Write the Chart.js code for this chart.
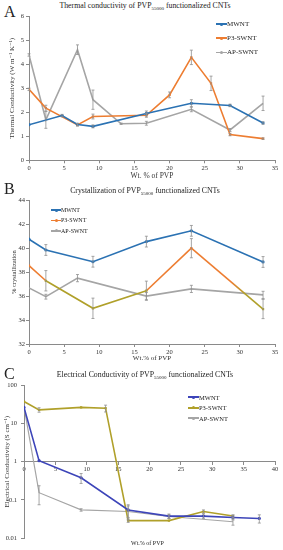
<!DOCTYPE html>
<html>
<head>
<meta charset="utf-8">
<script src="https://cdn.jsdelivr.net/npm/chart.js@4.4.1/dist/chart.umd.min.js"></script>
<style>
  body { margin: 0; background: #fff; width: 283px; height: 550px; position: relative; overflow: hidden;
         font-family: "Liberation Serif", "DejaVu Serif", serif; color: #222; }
  canvas { position: absolute; left: 0; }
  .letter { position: absolute; left: 4px; font-size: 16px; line-height: 16px; }
  .title { position: absolute; left: 0; width: 290px; text-align: center; font-size: 7.8px; line-height: 10px; white-space: nowrap; }
  .title span { font-size: 5px; position: relative; top: 1.5px; }
  .legend { position: absolute; }
  .legend .row { display: flex; align-items: center; white-space: nowrap; }
  .legend .sw { display: inline-block; position: relative; height: 6px; }
  .legend .sw b { position: absolute; left: 0; right: 0; top: 2.2px; height: 1.6px; }
  .legend .sw i { position: absolute; left: 50%; top: 1.5px; width: 3px; height: 3px; margin-left: -1.5px; border-radius: 50%; }
  .xtitle { position: absolute; font-size: 6px; line-height: 8px; white-space: nowrap; }
</style>
</head>
<body>
<div class="letter" style="top:4px">A</div>
<div class="title" style="top:1px">Thermal conductivity of PVP<span>55000</span> functionalized CNTs</div>
<canvas id="chartA" width="283" height="181" style="top:0"></canvas>
<div class="legend" id="legA" style="left:216px; top:17px; font-size:7px"></div>

<div class="letter" style="top:181px">B</div>
<div class="title" style="top:186px">Crystallization of PVP<span>55000</span> functionalized CNTs</div>
<canvas id="chartB" width="283" height="184" style="top:181px"></canvas>
<div class="legend" id="legB" style="left:51px; top:205px; font-size:6px"></div>

<div class="letter" style="top:366px">C</div>
<div class="title" style="top:370px">Electrical Conductivity of PVP<span>55000</span> functionalized CNTs</div>
<canvas id="chartC" width="283" height="188" style="top:362px"></canvas>
<div class="legend" id="legC" style="left:188px; top:392px; font-size:6.5px"></div>
<div class="xtitle" style="left:131px; top:539px">Wt.% of PVP</div>

<script>
// ---- data ----
const seriesNames = ['MWNT', 'P3-SWNT', 'AP-SWNT'];

// A: thermal conductivity (W m-1 K-1)
const tcMwntX = [0, 4.7, 6.9, 9.1, 16.7, 23.1, 28.6, 33.3];
const tcMwntY = [1.48, 1.86, 1.49, 1.41, 1.95, 2.37, 2.28, 1.55];
const tcMwntErr = [0, 0.05, 0.05, 0.06, 0.1, 0.15, 0.05, 0.05];
const tcP3X = [0, 2.4, 6.9, 9.1, 16.7, 20.0, 23.1, 25.9, 28.6, 33.3];
const tcP3Y = [2.95, 2.17, 1.47, 1.82, 1.87, 2.72, 4.28, 3.2, 1.07, 0.9];
const tcP3Err = [0.05, 0.12, 0.05, 0.1, 0.08, 0.12, 0.3, 0.3, 0.05, 0.03];
const tcApX = [0, 2.4, 6.9, 9.1, 13.1, 16.7, 23.1, 28.6, 33.3];
const tcApY = [4.38, 1.68, 4.6, 2.52, 1.52, 1.54, 2.12, 1.26, 2.37];
const tcApErr = [0.05, 0.35, 0.2, 0.4, 0.03, 0.08, 0.1, 0.06, 0.3];

// B: % crystallization
const crMwntX = [0, 2.4, 9.1, 16.7, 23.1, 33.3];
const crMwntY = [40.75, 39.85, 38.87, 40.55, 41.45, 38.85];
const crMwntErr = [0, 0.45, 0.45, 0.45, 0.45, 0.45];
const crP3X = [0, 2.4, 9.1, 16.7, 23.1, 33.3];
const crP3Y = [38.55, 37.28, 34.98, 36.45, 40.0, 34.92];
const crP3Err = [0, 0.85, 0.85, 0.8, 0.8, 0.8];
const crApX = [0, 2.4, 6.9, 16.7, 23.1, 33.3];
const crApY = [36.68, 35.95, 37.5, 36.0, 36.6, 36.1];
const crApErr = [0, 0.2, 0.3, 0.3, 0.3, 0.3];

// C: electrical conductivity (S cm-1), log axis
const ecMwntX = [0, 2.4, 9.1, 16.6, 23.1, 28.6, 33.3, 37.5];
const ecMwntY = [26, 1.06, 0.38, 0.055, 0.038, 0.038, 0.035, 0.033];
const ecMwntErr = [0, 0, 0.11, 0.02, 0.005, 0.005, 0.005, 0.008];
const ecP3X = [0, 2.4, 9.1, 13.0, 16.6, 23.1, 28.6, 33.3];
const ecP3Y = [37, 22.5, 26, 24.8, 0.029, 0.029, 0.05, 0.038];
const ecP3Err = [0, 3, 0, 5, 0.003, 0, 0.005, 0.003];
const ecApX = [0, 2.4, 9.1, 16.6, 23.1, 33.3];
const ecApY = [27, 0.155, 0.055, 0.05, 0.037, 0.027];
const ecApErr = [0, 0.08, 0.004, 0.02, 0.004, 0.005];
const ecDecades = [0.01, 0.1, 1, 10, 100];

// ---- styling ----
const BLUE = '#2b72b3', ORANGE = '#ed7d31', GRAY = '#a5a5a5';
const NAVY = '#3d45b9', OLIVE = '#b0a02a', AXIS = '#8a8a8a';

Chart.defaults.font.family = '"Liberation Serif", "DejaVu Serif", serif';
Chart.defaults.color = '#333';

const pts = (xs, ys) => xs.map((x, i) => ({ x, y: ys[i] }));

// vertical error bars, drawn through the chart's own scales
const errorBars = {
  id: 'errorBars',
  afterDatasetsDraw(chart) {
    const { ctx, scales: { x, y } } = chart;
    ctx.save();
    ctx.strokeStyle = '#8f8f8f';
    ctx.lineWidth = 0.8;
    chart.data.datasets.forEach(ds => {
      if (!ds.errors) return;
      ds.data.forEach((p, j) => {
        const e = ds.errors[j];
        if (!e) return;
        const px = x.getPixelForValue(p.x);
        const lo = y.getPixelForValue(Math.max(p.y - e, y.min));
        const hi = y.getPixelForValue(p.y + e);
        ctx.beginPath();
        ctx.moveTo(px, lo); ctx.lineTo(px, hi);
        ctx.moveTo(px - 1.5, lo); ctx.lineTo(px + 1.5, lo);
        ctx.moveTo(px - 1.5, hi); ctx.lineTo(px + 1.5, hi);
        ctx.stroke();
      });
    });
    ctx.restore();
  }
};

function line(label, data, errors, color, style, extra) {
  return Object.assign({
    label, data, errors,
    borderColor: color, backgroundColor: color,
    borderWidth: 1.6, pointRadius: 1.6, pointStyle: style || 'circle',
    pointBorderWidth: 0, tension: 0,
  }, extra || {});
}

function axis(extra) {
  return Object.assign({
    type: 'linear',
    border: { color: AXIS, width: 1 },
    grid: { drawOnChartArea: false, drawTicks: true, tickLength: 3, color: AXIS },
    ticks: { font: { size: 6.5 }, padding: 2, color: '#333' },
  }, extra);
}

function build(id, datasets, scales, padding) {
  return new Chart(document.getElementById(id), {
    type: 'line',
    data: { datasets },
    options: {
      responsive: false, animation: false,
      layout: { padding },
      plugins: { legend: { display: false }, tooltip: { enabled: false } },
      scales,
    },
    plugins: [errorBars],
  });
}

function legend(id, colors, rowH, swW) {
  const el = document.getElementById(id);
  el.innerHTML = seriesNames.map((n, i) =>
    `<div class="row" style="height:${rowH}px"><span class="sw" style="width:${swW}px">` +
    `<b style="background:${colors[i]}"></b><i style="background:${colors[i]}"></i></span>${n}</div>`
  ).join('');
}

// ---- A ----
build('chartA', [
  line(seriesNames[0], pts(tcMwntX, tcMwntY), tcMwntErr, BLUE),
  line(seriesNames[1], pts(tcP3X, tcP3Y), tcP3Err, ORANGE, 'rect'),
  line(seriesNames[2], pts(tcApX, tcApY), tcApErr, GRAY, 'line'),
], {
  x: axis({ min: 0, max: 35, ticks: { stepSize: 5, font: { size: 6.5 }, padding: 1 },
    title: { display: true, text: 'Wt. % of PVP', font: { size: 7.5 }, padding: { top: 0, bottom: 0.5 } },
    afterFit: s => { s.height = 20.7; } }),
  y: axis({ min: 0, max: 6, ticks: { stepSize: 1, font: { size: 6.5 }, padding: 2 },
    title: { display: true, text: 'Thermal Conductivity (W m\u207B\u00B9 K\u207B\u00B9)', font: { size: 7 }, padding: { top: 7.5, bottom: 0 } },
    afterFit: s => { s.width = 29; } }),
}, { top: 16, right: 8, left: 0, bottom: 0 });
legend('legA', [BLUE, ORANGE, GRAY], 14.2, 11);

// ---- B ----
build('chartB', [
  line(seriesNames[0], pts(crMwntX, crMwntY), crMwntErr, BLUE),
  line(seriesNames[1], pts(crP3X, crP3Y), crP3Err, ORANGE, 'rect', {
    pointBackgroundColor: [ORANGE, OLIVE, OLIVE, OLIVE, ORANGE, OLIVE],
    segment: {
      borderColor: c => {
        const i = c.p0DataIndex;
        if (i === 1 || i === 2) return OLIVE;
        if (i === 4) {
          const g = c.chart.ctx.createLinearGradient(c.p0.x, 0, c.p1.x, 0);
          g.addColorStop(0, ORANGE); g.addColorStop(0.55, ORANGE);
          g.addColorStop(0.75, OLIVE); g.addColorStop(1, OLIVE);
          return g;
        }
        return ORANGE;
      }
    }
  }),
  line(seriesNames[2], pts(crApX, crApY), crApErr, GRAY, 'line'),
], {
  x: axis({ min: 0, max: 35, ticks: { stepSize: 5, font: { size: 6.5 }, padding: 1 },
    title: { display: true, text: 'Wt.% of PVP', font: { size: 7 }, padding: { top: 0, bottom: 2.8 } },
    afterFit: s => { s.height = 21; } }),
  y: axis({ min: 32, max: 44, ticks: { stepSize: 2, font: { size: 6.5 }, padding: 1 },
    title: { display: true, text: '% crystallization', font: { size: 6.5 }, padding: { top: 10.6, bottom: 0 } },
    afterFit: s => { s.width = 29; } }),
}, { top: 19.3, right: 8, left: 0, bottom: 0 });
legend('legB', [BLUE, ORANGE, GRAY], 10.3, 10);

// ---- C ----
build('chartC', [
  line(seriesNames[0], pts(ecMwntX, ecMwntY), ecMwntErr, NAVY),
  line(seriesNames[1], pts(ecP3X, ecP3Y), ecP3Err, OLIVE, 'rect'),
  line(seriesNames[2], pts(ecApX, ecApY), ecApErr, GRAY, 'line', { borderWidth: 1.2 }),
], {
  x: axis({ min: 0, max: 40, position: { y: 1 }, ticks: { stepSize: 5, font: { size: 6.5 }, padding: 1 } }),
  y: axis({ type: 'logarithmic', min: 0.01, max: 100,
    afterBuildTicks: s => { s.ticks = ecDecades.map(v => ({ value: v, major: false })); },
    ticks: { font: { size: 6.5 }, padding: 4, callback: v => String(v) },
    title: { display: true, text: 'Electrical Conductivity (S cm\u207B\u00B9)', font: { size: 7 }, padding: { top: 2.8, bottom: 0 } },
    afterFit: s => { s.width = 24; } }),
}, { top: 23, right: 8, left: 0, bottom: 11.7 });
legend('legC', [NAVY, OLIVE, GRAY], 10.5, 11);
</script>
</body>
</html>
